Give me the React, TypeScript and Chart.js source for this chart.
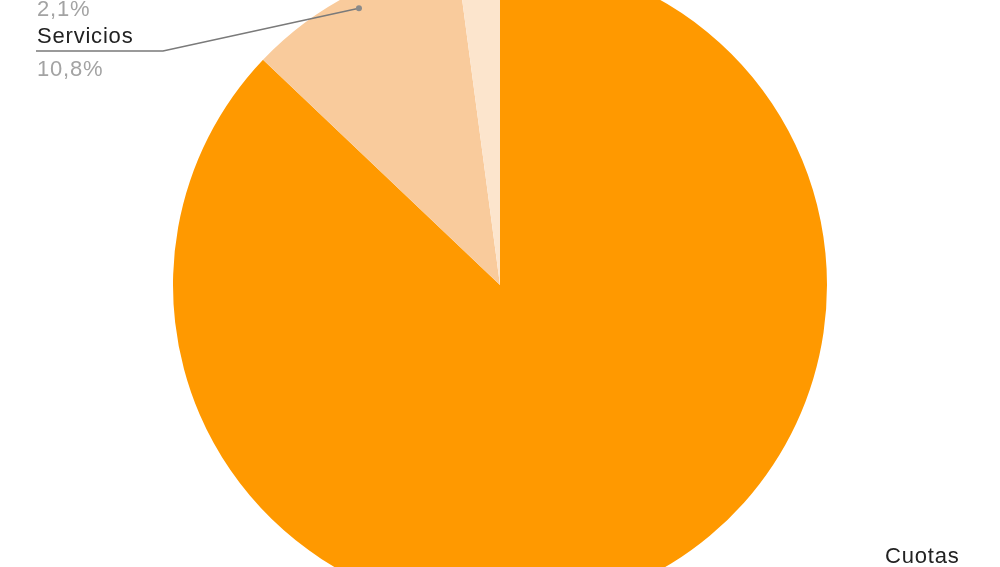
import { useEffect, useRef } from 'react';
import { Chart, registerables, Plugin } from 'chart.js';

Chart.register(...registerables);

// share of income, in percent
const categories = ['Cuotas', 'Servicios', 'Otros'];
const shares = [87.1, 10.8, 2.1];
const sliceColors = ['#ff9900', '#f9cb9c', '#fce5cd'];

// label placement (canvas coords): text left, name baseline, elbow x of the leader line
const labelSpots = [
  { x: 885, y: 605, elbow: 860 },
  { x: 37, y: 85, elbow: 163 },
  { x: 37, y: 25, elbow: 163 },
];

const leaderLabels: Plugin<'pie'> = {
  id: 'leaderLabels',
  afterDatasetsDraw(chart) {
    const { ctx } = chart;
    const meta = chart.getDatasetMeta(0);
    ctx.save();
    ctx.font = '22px "Liberation Sans", Arial, sans-serif';
    (ctx as any).letterSpacing = '0.8px';
    meta.data.forEach((el: any, i: number) => {
      const spot = labelSpots[i];
      const mid = (el.startAngle + el.endAngle) / 2;
      const r = el.outerRadius * 0.95;
      const px = el.x + Math.cos(mid) * r;
      const py = el.y + Math.sin(mid) * r;
      const lineY = spot.y + 8;
      const name = categories[i];
      const pct = shares[i].toFixed(1).replace('.', ',') + '%';
      const textW = Math.max(ctx.measureText(name).width, ctx.measureText(pct).width);

      // leader line
      ctx.strokeStyle = '#7a7a7a';
      ctx.lineWidth = 1.5;
      ctx.beginPath();
      ctx.moveTo(px, py);
      if (spot.x < el.x) {
        ctx.lineTo(spot.elbow, lineY);
        ctx.lineTo(spot.x - 1, lineY);
      } else {
        ctx.lineTo(spot.elbow, lineY);
        ctx.lineTo(spot.x + textW + 1, lineY);
      }
      ctx.stroke();
      ctx.fillStyle = '#8a8a8a';
      ctx.beginPath();
      ctx.arc(px, py, 3, 0, Math.PI * 2);
      ctx.fill();

      // texts
      ctx.textAlign = 'left';
      ctx.textBaseline = 'alphabetic';
      ctx.fillStyle = '#222222';
      ctx.fillText(name, spot.x, spot.y);
      ctx.fillStyle = '#a3a3a3';
      ctx.fillText(pct, spot.x, spot.y + 33);
    });
    ctx.restore();
  },
};

export default function App() {
  const canvasRef = useRef<HTMLCanvasElement>(null);
  const chartRef = useRef<Chart<'pie'> | null>(null);

  useEffect(() => {
    if (!canvasRef.current) return;
    if (chartRef.current) chartRef.current.destroy();

    chartRef.current = new Chart(canvasRef.current, {
      type: 'pie',
      data: {
        labels: categories,
        datasets: [{
          data: shares,
          backgroundColor: sliceColors,
          borderWidth: 0,
        }],
      },
      options: {
        responsive: true,
        maintainAspectRatio: false,
        animation: false,
        layout: { padding: 0 },
        plugins: {
          legend: { display: false },
          tooltip: { enabled: false },
        },
      },
      plugins: [leaderLabels],
    });

    return () => {
      if (chartRef.current) {
        chartRef.current.destroy();
        chartRef.current = null;
      }
    };
  }, []);

  return (
    <div style={{ position: 'fixed', left: 0, top: -42, width: 1000, height: 654, background: '#ffffff' }}>
      <canvas ref={canvasRef} />
    </div>
  );
}
